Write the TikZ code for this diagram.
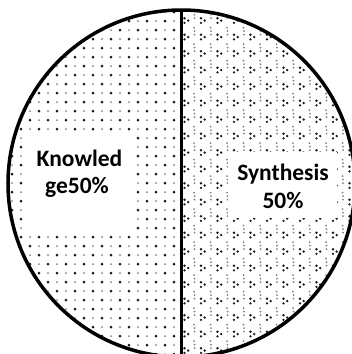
\documentclass[tikz,border=0pt]{standalone}
\usepackage{fontspec}
\setmainfont{Carlito}
\begin{document}
\begin{tikzpicture}[x=1pt,y=-1pt,
  lbl/.style={font=\fontsize{23.5}{28}\selectfont\bfseries, inner sep=0pt, anchor=base},
  whitebox/.style={fill=white, draw=none, inner sep=0pt},
  bigdot/.style={fill=black!90},
  smalldot/.style={fill=black!50}]
\useasboundingbox (0,0) rectangle (352,354);
\coordinate (c) at (181.5,183.5);
% left half pattern
\begin{scope}
  \clip (0,0) rectangle (181.5,360);
  \clip (c) circle[radius=173.5];
  \foreach \i in {0,...,20} {
    \foreach \j in {0,...,40} {
      \pgfmathtruncatemacro{\myparity}{mod(\i+\j,2)}
      \ifnum\myparity=0
        \fill[bigdot] (\i*9+3,\j*9+3) circle[radius=1.5];
      \else
        \fill[smalldot] (\i*9+3,\j*9+3) circle[radius=1.0];
      \fi
    }
  }
\end{scope}
% right half pattern
\begin{scope}
  \clip (181.5,0) rectangle (360,360);
  \clip (c) circle[radius=173.5];
  \foreach \i in {0,...,11} {
    \foreach \j in {0,...,22} {
      \pgfmathsetmacro{\xx}{186+\i*16.5}
      \pgfmathsetmacro{\yy}{4+\j*16.5}
      \fill[bigdot] (\xx-1.5,\yy-2.3) circle[radius=1.3];
      \fill[bigdot] (\xx-1.5,\yy+2.3) circle[radius=1.3];
      \fill[bigdot] (\xx+2.2,\yy) circle[radius=1.3];
      \fill[smalldot] (\xx-8,\yy-6) circle[radius=1.0];
      \fill[smalldot] (\xx-8,\yy-2.5) circle[radius=1.0];
      \fill[smalldot] (\xx+8,\yy+7) circle[radius=1.0];
    }
  }
\end{scope}
% label boxes
\node[whitebox, minimum width=105, minimum height=97] (lbox) at (80.5,183.5) {};
\node[whitebox, minimum width=109, minimum height=66] (rbox) at (282.5,185) {};
% outline
\draw[line width=3.5pt] (c) circle[radius=173.5];
\coordinate (top) at (181.5,10);
\coordinate (bot) at (181.5,357);
\draw[line width=3.5pt] (top) -- (bot);
% texts
\node[lbl] (k1) at (79.5,166) {Knowled};
\node[lbl] (k2) at (77,193) {ge50\%};
\node[lbl] (s1) at (283,180) {Synthesis};
\node[lbl] (s2) at (283,208) {50\%};
\end{tikzpicture}
\end{document}
